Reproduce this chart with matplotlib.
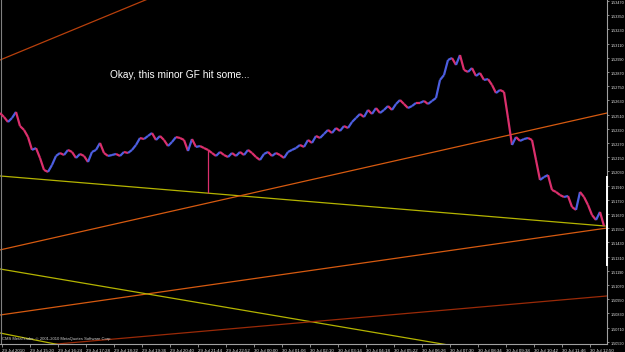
import numpy as np
import matplotlib
matplotlib.use('Agg')
import matplotlib.pyplot as plt
from matplotlib.collections import LineCollection

## GBPUSD style intraday closes, one value per bar
closes = [1.52523, 1.52489, 1.52447, 1.52481, 1.52532, 1.52413, 1.52380, 1.52320,
          1.52211, 1.52227, 1.52143, 1.52042, 1.52025, 1.52084, 1.52160, 1.52185,
          1.52168, 1.52211, 1.52194, 1.52143, 1.52177, 1.52160, 1.52109, 1.52194,
          1.52211, 1.52270, 1.52185, 1.52160, 1.52168, 1.52177, 1.52160, 1.52194,
          1.52185, 1.52211, 1.52253, 1.52312, 1.52303, 1.52329, 1.52354, 1.52295,
          1.52329, 1.52295, 1.52244, 1.52278, 1.52320, 1.52312, 1.52295, 1.52202,
          1.52303, 1.52236, 1.52244, 1.52227, 1.52211, 1.52185, 1.52160, 1.52194,
          1.52168, 1.52151, 1.52185, 1.52160, 1.52194, 1.52168, 1.52211, 1.52185,
          1.52151, 1.52126, 1.52177, 1.52194, 1.52160, 1.52185, 1.52168, 1.52143,
          1.52194, 1.52211, 1.52227, 1.52253, 1.52236, 1.52295, 1.52270, 1.52329,
          1.52312, 1.52346, 1.52380, 1.52354, 1.52396, 1.52371, 1.52413, 1.52396,
          1.52447, 1.52481, 1.52515, 1.52489, 1.52549, 1.52515, 1.52565, 1.52523,
          1.52549, 1.52582, 1.52549, 1.52599, 1.52633, 1.52599, 1.52565, 1.52582,
          1.52608, 1.52608, 1.52625, 1.52599, 1.52625, 1.52650, 1.52802, 1.52844,
          1.52971, 1.52988, 1.52929, 1.53013, 1.52887, 1.52870, 1.52903, 1.52836,
          1.52861, 1.52802, 1.52810, 1.52760, 1.52692, 1.52718, 1.52701, 1.52481,
          1.52253, 1.52320, 1.52287, 1.52303, 1.52312, 1.52295, 1.52126, 1.51957,
          1.51982, 1.51999, 1.51873, 1.51856, 1.51830, 1.51813, 1.51822, 1.51729,
          1.51704, 1.51856, 1.51813, 1.51746, 1.51661, 1.51619, 1.51687, 1.51568]

# long wick bars
spike_bar = [52]
spike_low = [1.51847]

# hand drawn trend lines: (bar, price) -> (bar, price)
trend_start = [(0, 1.52971), (0, 1.51991), (0, 1.51366), (0, 1.50816),
               (0, 1.51205), (0, 1.50529), (0, 1.50664)]
trend_end   = [(37, 1.53487), (151.25, 1.51568), (151.75, 1.52523), (151.75, 1.51551),
               (112, 1.50563), (151.75, 1.50977), (15, 1.50563)]
trend_col   = ['#B8400C', '#B4B400', '#D65A10', '#D65A10',
               '#B4B400', '#9A2A08', '#B4B400']

price_ticks = [1.53470, 1.53350, 1.53230, 1.53110, 1.52990, 1.52870, 1.52750,
               1.52630, 1.52510, 1.52390, 1.52270, 1.52150, 1.52030, 1.51910,
               1.51790, 1.51670, 1.51550, 1.51430, 1.51310, 1.51190, 1.51070,
               1.50950, 1.50830, 1.50710, 1.50590]

time_labels = ['29 Jul 2010', '29 Jul 15:20', '29 Jul 16:24', '29 Jul 17:28',
               '29 Jul 18:32', '29 Jul 19:36', '29 Jul 20:40', '29 Jul 21:44',
               '29 Jul 22:52', '30 Jul 00:00', '30 Jul 01:06', '30 Jul 02:10',
               '30 Jul 03:14', '30 Jul 04:18', '30 Jul 05:22', '30 Jul 06:26',
               '30 Jul 07:30', '30 Jul 08:34', '30 Jul 09:38', '30 Jul 10:42',
               '30 Jul 11:46', '30 Jul 12:50']
time_bars = [0.5, 7.5, 14.5, 21.5, 28.5, 35.5, 42.5, 49.5, 56.5, 63.5, 70.5,
             77.5, 84.5, 91.5, 98.5, 105.5, 112.5, 119.5, 126.5, 133.5, 140.5, 147.5]

#### figure
plt.rcParams['font.family'] = ['Liberation Sans', 'DejaVu Sans']
fig = plt.figure(figsize=(6.25, 3.52), dpi=100, facecolor='black')
ax = fig.add_axes([0, 8/352, 607/625, 344/352], facecolor='black')

c = np.array(closes)
x = np.arange(len(c))
segs, cols = [], []
for i in range(1, len(c)):
    segs.append([(x[i-1], c[i-1]), (x[i], c[i])])
    cols.append('#4C5EE0' if c[i] > c[i-1] else '#DA2F6C')
ax.add_collection(LineCollection(segs, colors=cols, linewidths=1.6, zorder=3))
for b, lo in zip(spike_bar, spike_low):
    ax.vlines(b, lo, c[b], color='#DA2F6C', lw=0.9, zorder=3)

for (x0, p0), (x1, p1), col in zip(trend_start, trend_end, trend_col):
    ax.plot([x0, x1], [p0, p1], color=col, lw=0.9, zorder=2)

ax.axvline(0.3, color='#808080', lw=0.8)

ax.set_xlim(0, 151.75)
ax.set_ylim(1.50571, 1.53478)

for s in ['top', 'left']:
    ax.spines[s].set_visible(False)
for s in ['bottom', 'right']:
    ax.spines[s].set_color('#a0a0a0')
    ax.spines[s].set_linewidth(0.8)

ax.yaxis.tick_right()
ax.set_yticks(price_ticks)
ax.set_yticklabels(['%.5f' % p for p in price_ticks])
ax.set_xticks(time_bars)
ax.set_xticklabels(time_labels)
ax.tick_params(axis='x', colors='#a0a0a0', labelcolor='#e8e8e8',
               labelsize=3.2, length=2, width=0.6, pad=1.5)
ax.tick_params(axis='y', colors='#a0a0a0', labelcolor='#e8e8e8',
               labelsize=2.7, length=1.5, width=0.6, pad=0.8)
plt.setp(ax.get_xticklabels(), ha='left')
plt.setp(ax.get_yticklabels(), va='top')

# white marker strip on the price scale
ax.plot([1.0, 1.0], [0.23, 0.485], color='white', lw=1.4,
        transform=ax.transAxes, clip_on=False, zorder=5)

ax.text(0.181, 0.782, 'Okay, this minor GF hit some...', color='white',
        fontsize=7.3, va='center', ha='left', transform=ax.transAxes)
ax.text(0.004, 0.015, 'CMS MetaTrader, \u00a9 2001-2010 MetaQuotes Software Corp.',
        color='#d0d0d0', fontsize=3.0, va='center', ha='left', transform=ax.transAxes)

plt.savefig('out.png', dpi=100, facecolor='black')
